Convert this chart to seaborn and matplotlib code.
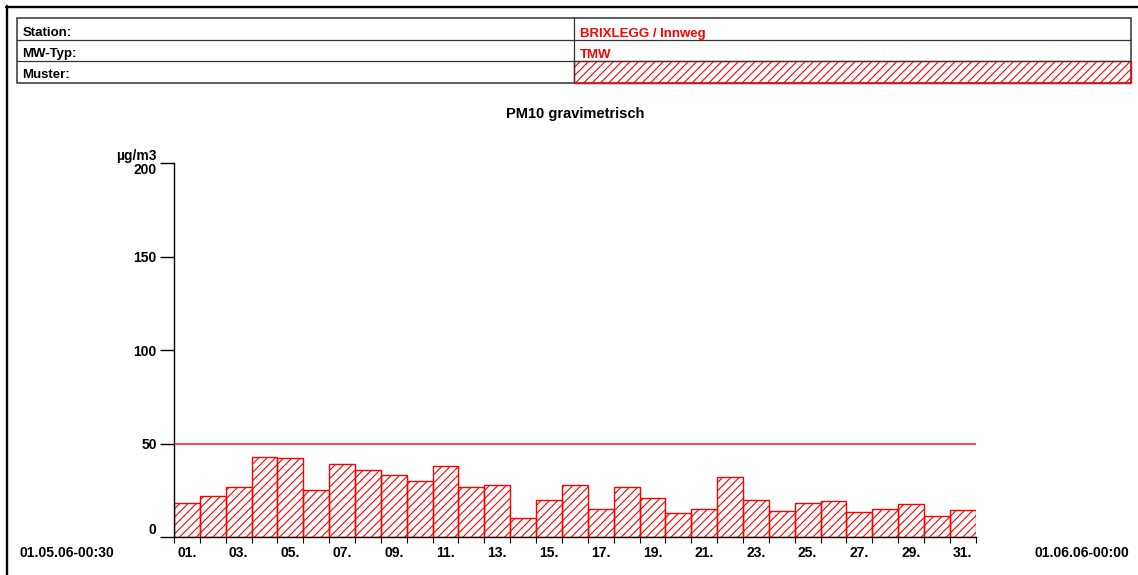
import numpy as np
import pandas as pd
import matplotlib
matplotlib.use("Agg")
import matplotlib.pyplot as plt
from matplotlib.patches import Rectangle
from matplotlib.lines import Line2D
import seaborn as sns

# Daily mean PM10 (gravimetric), Brixlegg / Innweg, May 2006
days = [f"{d:02d}." for d in range(1, 32)]
pm10 = [18, 22, 27, 43, 42, 25, 39, 36, 33, 30, 38, 27, 28, 10, 20, 28,
        15, 26.5, 21, 13, 15, 32, 20, 14, 18, 19, 13.5, 15, 17.5, 11, 14.5]
limit_value = 50
y_ticks = [0, 50, 100, 150, 200]

header_labels = ["Station:", "MW-Typ:", "Muster:"]
header_values = ["BRIXLEGG / Innweg", "TMW"]
chart_title = "PM10 gravimetrisch"
unit_label = "µg/m3"
period_start = "01.05.06-00:30"
period_end = "01.06.06-00:00"

W, H = 1138, 575
sns.set_theme(style="white")
plt.rcParams["font.family"] = ["Liberation Sans", "DejaVu Sans"]
plt.rcParams["font.weight"] = "bold"
plt.rcParams["hatch.linewidth"] = 0.8
for key in ["text.color", "axes.labelcolor", "xtick.color", "ytick.color"]:
    plt.rcParams[key] = "black"

fig = plt.figure(figsize=(W / 100, H / 100), dpi=100)
fig.patch.set_facecolor("white")


def fx(px):
    return px / W


def fy(py):
    return 1 - py / H


RED = "#ff0000"
FS = 10
HATCH = "////"

# Outer page frame (top and left)
fig.add_artist(Line2D([fx(6), fx(W)], [fy(7), fy(7)], color="black", lw=1.7,
                      transform=fig.transFigure))
fig.add_artist(Line2D([fx(7), fx(7)], [fy(6), fy(H)], color="black", lw=1.7,
                      transform=fig.transFigure))

# Header table
tx0, tx1, tcol = 17, 1131, 573.5
rows = [18, 39.5, 61, 82.5]
grid_col = "#333333"
fig.add_artist(Rectangle((fx(tx0), fy(rows[-1])), fx(tx1) - fx(tx0),
                         fy(rows[0]) - fy(rows[-1]), fill=False,
                         edgecolor=grid_col, lw=1.1, transform=fig.transFigure))
for r in rows[1:-1]:
    fig.add_artist(Line2D([fx(tx0), fx(tx1)], [fy(r), fy(r)], color=grid_col,
                          lw=0.9, transform=fig.transFigure))
fig.add_artist(Line2D([fx(tcol), fx(tcol)], [fy(rows[0]), fy(rows[-1])],
                      color=grid_col, lw=0.9, transform=fig.transFigure))
fig.add_artist(Rectangle((fx(tcol), fy(rows[3])), fx(tx1) - fx(tcol),
                         fy(rows[2]) - fy(rows[3]), facecolor="none",
                         edgecolor=RED, hatch=HATCH, lw=1.0,
                         transform=fig.transFigure))

label_baselines = [36.5, 57.5, 78.3]
for lab, yb in zip(header_labels, label_baselines):
    fig.text(fx(22.5), fy(yb), lab, fontsize=9.5, fontweight="bold",
             color="black", ha="left", va="baseline")
for val, yb in zip(header_values, label_baselines[:2]):
    fig.text(fx(580), fy(yb), val, fontsize=9.5, fontweight="bold",
             color=RED, ha="left", va="baseline")

# Chart title
fig.text(fx(575), fy(118), chart_title, fontsize=10.5, fontweight="bold",
         ha="center", va="baseline", color="black")

# Chart axes
ax_left, ax_right = 174, 975.7
ax_top, ax_bottom = 163, 537
ax = fig.add_axes([fx(ax_left), fy(ax_bottom), fx(ax_right) - fx(ax_left),
                   fy(ax_top) - fy(ax_bottom)])
ax.set_facecolor("white")

df = pd.DataFrame({"day": days, "pm10": pm10})
sns.barplot(data=df, x="day", y="pm10", ax=ax, color=RED, fill=False,
            width=1.0, linewidth=1.0, saturation=1)
for p in ax.patches:
    p.set_hatch(HATCH)
    p.set_edgecolor(RED)

ax.axhline(limit_value, color=RED, lw=1.2, alpha=0.85, zorder=3)

n = len(days)
ax.set_xlim(-0.5, n - 0.5)
ax.set_ylim(y_ticks[0], y_ticks[-1])
ax.set_xlabel("")
ax.set_ylabel("")

for side in ["top", "right"]:
    ax.spines[side].set_visible(False)
for side in ["left", "bottom"]:
    ax.spines[side].set_visible(True)
    ax.spines[side].set_color("black")
    ax.spines[side].set_linewidth(1.0)

ax.set_yticks(y_ticks)
ax.set_yticklabels([str(v) for v in y_ticks], fontsize=FS, fontweight="bold",
                   color="black")
ax.tick_params(axis="y", which="major", direction="out", length=10, width=1.0,
               color="black", pad=2.5, left=True)
ylabels = ax.get_yticklabels()
ylabels[0].set_verticalalignment("bottom")
ylabels[-1].set_verticalalignment("top")

ax.set_xticks(range(0, n, 2))
ax.set_xticklabels(days[::2], fontsize=FS, fontweight="bold", color="black")
ax.set_xticks(np.arange(-0.5, n, 1.0), minor=True)
ax.tick_params(axis="x", which="major", length=0, pad=6.2, bottom=True)
ax.tick_params(axis="x", which="minor", direction="out", length=4.5,
               width=0.8, color="black", bottom=True)
ax.grid(False)

# Unit and period labels
fig.text(fx(157), fy(160), unit_label, fontsize=FS, fontweight="bold",
         ha="right", va="baseline", color="black")
fig.text(fx(19), fy(557), period_start, fontsize=FS, fontweight="bold",
         ha="left", va="baseline", color="black")
fig.text(fx(1129), fy(557), period_end, fontsize=FS, fontweight="bold",
         ha="right", va="baseline", color="black")

fig.savefig("out.png", dpi=100, facecolor="white")
